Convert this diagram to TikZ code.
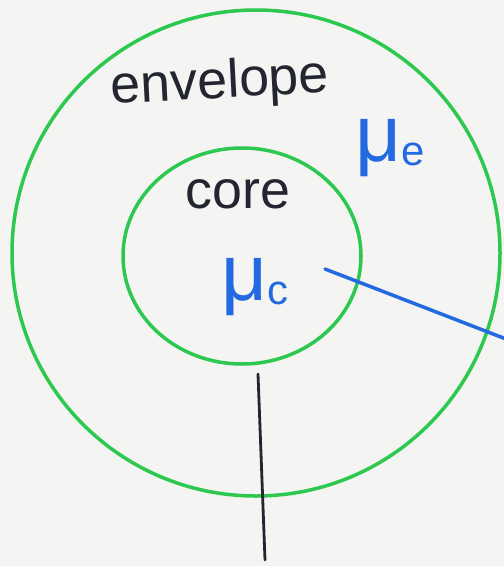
\documentclass[tikz,border=0pt]{standalone}
\usepackage{fontspec}
\setmainfont{Liberation Sans}
\definecolor{paper}{RGB}{244,244,242}
\definecolor{ringgreen}{RGB}{45,200,80}
\definecolor{penblue}{RGB}{35,105,225}
\definecolor{penblack}{RGB}{35,38,48}
\begin{document}
\begin{tikzpicture}[x=1bp,y=-1bp,
  ring/.style={draw=ringgreen,line width=3.5bp},
  word/.style={text=penblack,inner sep=0pt,font=\fontsize{54}{60}\selectfont},
  greek/.style={text=penblue,inner sep=0pt,font=\fontsize{80}{84}\selectfont},
  blueline/.style={draw=penblue,line width=3.5bp,line cap=round},
  blackline/.style={draw=penblack,line width=2.8bp,line cap=round}]
\fill[paper] (0,0) rectangle (504,566);
\useasboundingbox (0,0) rectangle (504,566);
% shells
\draw[ring] (256,253) ellipse [x radius=244, y radius=243];
\draw[ring] (242,256) ellipse [x radius=119, y radius=108];
% labels
\node[word,rotate=3] (env) at (220,84) {envelope};
\node[word] (core) at (238,194) {core};
\node[greek] (mue) at (390,148) {μ\raisebox{-4bp}{\fontsize{42}{42}\selectfont e}};
\node[greek] (muc) at (255,287) {μ\raisebox{-4bp}{\fontsize{42}{42}\selectfont c}};
% lines
\coordinate (bstart) at (325,269);
\coordinate (bend) at (506,339);
\draw[blueline] (bstart) -- (bend);
\coordinate (ktop) at (258,374);
\coordinate (kbot) at (265,560);
\draw[blackline] (ktop) -- (kbot);
\end{tikzpicture}
\end{document}
